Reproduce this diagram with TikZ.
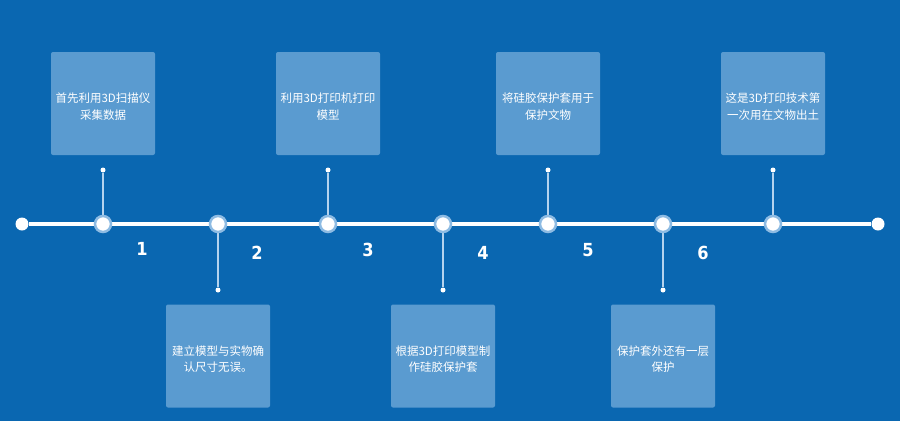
\documentclass[tikz,border=0pt]{standalone}
\usepackage{fontspec}
\newfontfamily\cjk{Noto Sans CJK SC}
\newfontfamily\numfont{DejaVu Sans Condensed}
\definecolor{bg}{HTML}{0A67B1}
\definecolor{boxc}{HTML}{5A9BD0}
\definecolor{halo}{HTML}{8DBBE3}
\definecolor{linec}{HTML}{B5D3EE}
\begin{document}
\begin{tikzpicture}[x=1pt,y=-1pt,
  card/.style={fill=boxc, rounded corners=2pt, minimum width=104pt, minimum height=103pt, inner sep=0pt},
  cardtext/.style={text=white, align=center, inner sep=0pt, font=\cjk\fontsize{11.5}{16.5}\selectfont},
  knot/.style={circle, fill=white, draw=halo, line width=2.5pt, minimum size=16pt, inner sep=0pt},
  endpt/.style={circle, fill=white, minimum size=13pt, inner sep=0pt},
  pin/.style={circle, fill=white, minimum size=5pt, inner sep=0pt},
  stem/.style={draw=linec, line width=1.3pt},
  num/.style={text=white, font=\numfont\bfseries\fontsize{18}{18}\selectfont}]
\fill[bg] (0,0) rectangle (900,421);
\useasboundingbox (0,0) rectangle (900,421);
% main line
\node[endpt] (L) at (22,224) {};
\node[endpt] (R) at (878,224) {};
\draw[white, line width=3.5pt] (L) -- (R);
% upper cards
\node[card] (c1) at (103,103.5) {};
\node[card] (c3) at (328,103.5) {};
\node[card] (c5) at (548,103.5) {};
\node[card] (c7) at (773,103.5) {};
% lower cards
\node[card] (c2) at (218,356) {};
\node[card] (c4) at (443,356) {};
\node[card] (c6) at (663,356) {};
% card texts
\node[cardtext] (t1) at ([yshift=-3pt]c1.center) {首先利用3D扫描仪\\采集数据};
\node[cardtext] (t3) at ([yshift=-3pt]c3.center) {利用3D打印机打印\\模型};
\node[cardtext] (t5) at ([yshift=-3pt]c5.center) {将硅胶保护套用于\\保护文物};
\node[cardtext] (t7) at ([yshift=-3pt]c7.center) {这是3D打印技术第\\一次用在文物出土};
\node[cardtext] (t2) at ([yshift=-3pt]c2.center) {建立模型与实物确\\认尺寸无误。};
\node[cardtext] (t4) at ([yshift=-3pt]c4.center) {根据3D打印模型制\\作硅胶保护套};
\node[cardtext] (t6) at ([yshift=-3pt]c6.center) {保护套外还有一层\\保护};
% knots
\foreach \i/\x in {1/103,2/218,3/328,4/443,5/548,6/663,7/773} {
  \coordinate (k\i) at (\x,224);
}
% pins and stems
\foreach \i in {1,3,5,7} {
  \node[pin] (p\i) at ([yshift=54pt]k\i) {};
  \draw[stem] (p\i) -- (k\i);
}
\foreach \i in {2,4,6} {
  \node[pin] (p\i) at ([yshift=-66pt]k\i) {};
  \draw[stem] (k\i) -- (p\i);
}
\foreach \i in {1,...,7} {
  \node[knot] (kn\i) at (k\i) {};
}
% numbers
\node[num] (n1) at (142,249) {1};
\node[num] (n2) at (257,253) {2};
\node[num] (n3) at (368,250) {3};
\node[num] (n4) at (483,253) {4};
\node[num] (n5) at (588,250) {5};
\node[num] (n6) at (703,253) {6};
\end{tikzpicture}
\end{document}
